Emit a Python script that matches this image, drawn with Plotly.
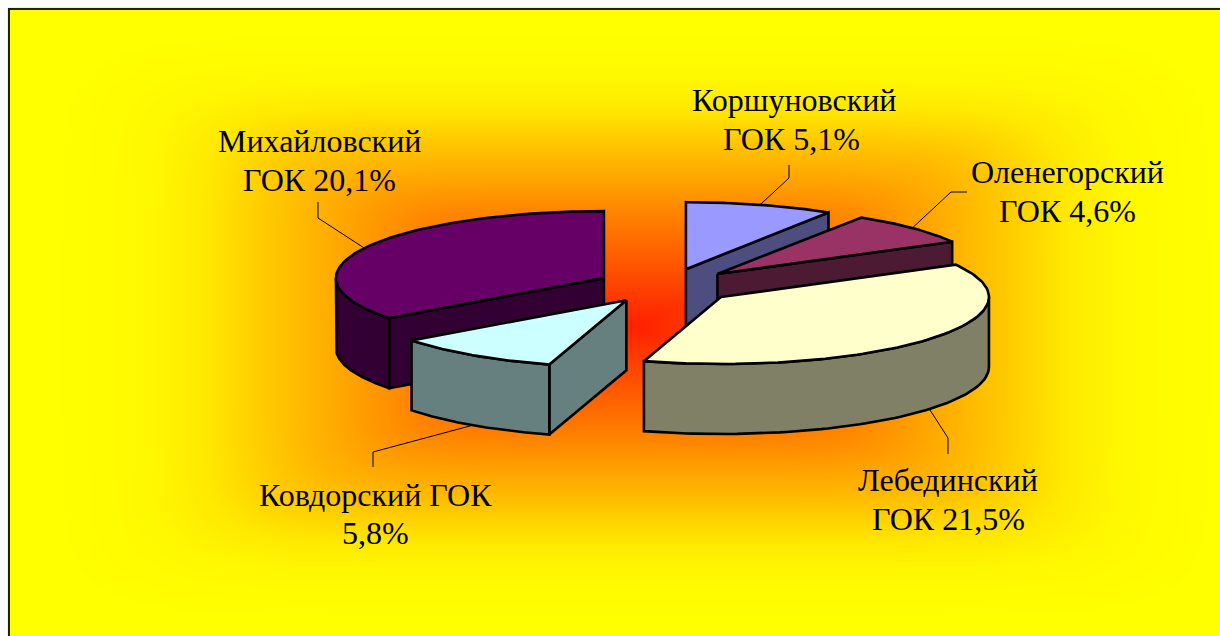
import numpy as np
import plotly.graph_objects as go

# ---- data ----
categories = ["Коршуновский", "Оленегорский", "Лебединский", "Ковдорский", "Михайловский"]
values = [5.1, 4.6, 21.5, 5.8, 20.1]
label_first = ["Коршуновский", "Оленегорский", "Лебединский", "Ковдорский ГОК", "Михайловский"]
label_second = ["ГОК {}%", "ГОК {}%", "ГОК {}%", "{}%", "ГОК {}%"]

# ---- styles ----
top_colors = ["#9999FF", "#993366", "#FFFFCC", "#CCFFFF", "#660066"]
side_colors = ["#4D4D80", "#4D1A33", "#808066", "#668080", "#330033"]
draw_order = [0, 1, 4, 2, 3]
CX, CY, RX, RY, DEPTH, EXPLODE = 666.5, 286.0, 268.0, 67.0, 70.0, 70.0
FONT = "Liberation Serif"
FS = 32
label_xy = [((794, 100), (791, 139)), ((1067, 172), (1067, 211)), ((948, 480), (948, 519)),
            ((375, 495), (375, 533)), ((319, 141), (319, 180))]
leader_pts = [[(789, 178), (789, 165)], [(951, 192), (967, 192)], [(948, 438), (948, 454)],
              [(373, 452), (373, 467)], [(318, 218), (318, 202)]]
leader_on_wall = [False, False, True, True, False]

W, H = 1220, 636
FRAME_L, FRAME_T = 9, 9
GC_X, GC_Y, GW, GH = 635, 325, 626, 316

gx = np.arange(FRAME_L, W + 5, 3.0)
gy = np.arange(FRAME_T, H + 5, 3.0)
XX, YY = np.meshgrid(gx, gy)
P = 8.0
Z = ((np.abs(XX - GC_X) / GW) ** P + (np.abs(YY - GC_Y) / GH) ** P) ** (1 / P)
Z = np.clip(Z * 1.08, 0, 1)

fig = go.Figure()
fig.add_trace(go.Heatmap(x=gx, y=gy, z=Z, zmin=0, zmax=1, zsmooth="best", showscale=False,
                         colorscale=[[0, "#FF2000"], [0.37, "#FF8000"], [0.52, "#FFAA00"],
                                     [0.63, "#FFC800"], [0.74, "#FFE800"], [0.84, "#FFF800"],
                                     [1, "#FFFF00"]],
                         hoverinfo="skip"))

total = sum(values)
edges = np.concatenate([[0], np.cumsum(values)]) / total * 2 * np.pi


def poly(xs, ys, color):
    xs, ys = list(xs), list(ys)
    fig.add_trace(go.Scatter(x=xs + xs[:1], y=ys + ys[:1], mode="lines", fill="toself",
                             fillcolor=color, line=dict(color="black", width=2.6),
                             hoverinfo="skip", showlegend=False))


apexes, mids = [], []
for i in range(len(values)):
    mid = (edges[i] + edges[i + 1]) / 2
    mids.append(mid)
    apexes.append((CX + EXPLODE * np.sin(mid), CY - EXPLODE * RY / RX * np.cos(mid)))

for i in draw_order:
    a0, a1 = edges[i], edges[i + 1]
    ax, ay = apexes[i]
    pt = lambda t: (ax + RX * np.sin(t), ay - RY * np.cos(t))
    # cut faces that look towards the viewer
    for t, seen in ((a0, np.sin(a0) < -1e-6), (a1, np.sin(a1) > 1e-6)):
        if seen:
            px, py = pt(t)
            poly([ax, px, px, ax], [ay, py, py + DEPTH, ay + DEPTH], side_colors[i])
    # outer wall: only the part of the rim that faces the viewer
    w0, w1 = max(a0, np.pi / 2), min(a1, 3 * np.pi / 2)
    if w1 > w0:
        t = np.linspace(w0, w1, 70)
        xs, ys = pt(t)
        poly(np.concatenate([xs, xs[::-1]]), np.concatenate([ys, ys[::-1] + DEPTH]), side_colors[i])
    # top face
    t = np.linspace(a0, a1, 90)
    xs, ys = pt(t)
    poly(np.concatenate([[ax], xs]), np.concatenate([[ay], ys]), top_colors[i])

# leader lines start at the slice's mid-angle on its rim
for i in range(len(values)):
    ax, ay = apexes[i]
    sx = ax + RX * np.sin(mids[i])
    sy = ay - RY * np.cos(mids[i]) + (DEPTH if leader_on_wall[i] else 0)
    pts = leader_pts[i]
    fig.add_trace(go.Scatter(x=[sx] + [p[0] for p in pts], y=[sy] + [p[1] for p in pts],
                             mode="lines", line=dict(color="black", width=1),
                             hoverinfo="skip", showlegend=False))

# labels
for i, v in enumerate(values):
    pct = f"{v:.1f}".replace(".", ",")
    for text, (lx, ly) in zip((label_first[i], label_second[i].format(pct)), label_xy[i]):
        fig.add_annotation(x=lx, y=ly, text=text, showarrow=False, xref="x", yref="y",
                           xanchor="center", yanchor="middle",
                           font=dict(family=FONT, size=FS, color="black"))

# frame
fig.add_shape(type="rect", x0=FRAME_L, y0=FRAME_T, x1=W + 40, y1=H + 40, xref="x", yref="y",
              line=dict(color="#222200", width=2), fillcolor="rgba(0,0,0,0)", layer="above")

fig.update_xaxes(range=[0, W], visible=False, fixedrange=True)
fig.update_yaxes(range=[H, 0], visible=False, fixedrange=True)
fig.update_layout(width=W, height=H, margin=dict(l=0, r=0, t=0, b=0), showlegend=False,
                  paper_bgcolor="white", plot_bgcolor="white")
fig.write_html("out.html", config={"displayModeBar": False},
               post_script="document.body.style.margin='0';document.body.style.overflow='hidden';")
